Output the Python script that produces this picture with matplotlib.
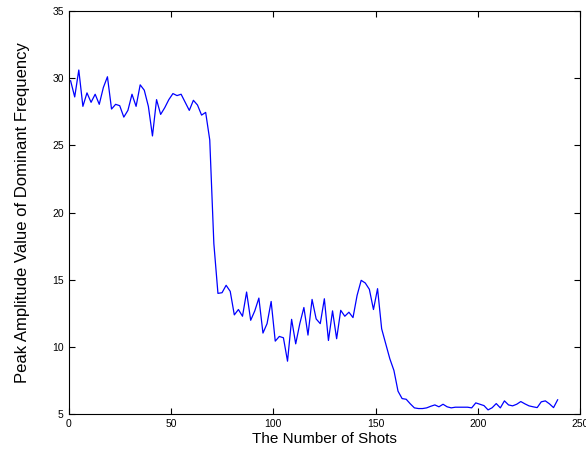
import numpy as np
import matplotlib.pyplot as plt

plt.rcParams['font.family'] = ['Liberation Sans', 'DejaVu Sans']

# shot index (every second shot)
shots = np.arange(1, 240, 2)

# peak amplitude of the dominant frequency
peak_amp = [
    29.8, 28.6, 30.6, 27.9, 28.9, 28.2, 28.8, 28.05, 29.3, 30.1,
    27.7, 28.05, 27.95, 27.1, 27.6, 28.8, 27.9, 29.5, 29.1, 27.9,
    25.7, 28.4, 27.3, 27.8, 28.4, 28.85, 28.7, 28.8, 28.2, 27.6,
    28.35, 28.0, 27.25, 27.45, 25.4, 17.7, 14.0, 14.05, 14.6, 14.15,
    12.4, 12.8, 12.3, 14.1, 12.0, 12.7, 13.65, 11.05, 11.75, 13.4,
    10.45, 10.8, 10.7, 8.96, 12.07, 10.25, 11.75, 12.95, 10.9, 13.55,
    12.1, 11.75, 13.6, 10.5, 12.7, 10.63, 12.74, 12.3, 12.6, 12.2,
    13.85, 14.97, 14.77, 14.3, 12.8, 14.35, 11.37, 10.25, 9.14, 8.27,
    6.73, 6.18, 6.13, 5.79, 5.49, 5.44, 5.44, 5.49, 5.61, 5.71,
    5.57, 5.76, 5.57, 5.49, 5.54, 5.54, 5.54, 5.54, 5.49, 5.86,
    5.76, 5.66, 5.34, 5.5, 5.81, 5.49, 6.01, 5.71, 5.64, 5.76,
    5.96, 5.79, 5.64, 5.57, 5.51, 5.94, 6.01, 5.79, 5.51, 6.09,
]

xticks = [0, 50, 100, 150, 200, 250]
yticks = [5, 10, 15, 20, 25, 30, 35]

fig = plt.figure(figsize=(5.86, 4.51), dpi=100)
ax = fig.add_axes([0.117, 0.081, 0.873, 0.895])
ax.plot(shots, peak_amp, color='#0000ff', lw=0.9)

ax.set_xlim(0, 250)
ax.set_ylim(5, 35)
ax.set_xticks(xticks)
ax.set_yticks(yticks)
ax.tick_params(direction='in', top=True, right=True, labelsize=7.5, length=4, width=0.8)
for s in ax.spines.values():
    s.set_linewidth(0.8)

ax.set_xlabel('The Number of Shots', fontsize=11, labelpad=2)
ax.set_ylabel('Peak Amplitude Value of Dominant Frequency', fontsize=12, labelpad=16)

fig.savefig('out.png', dpi=100)
